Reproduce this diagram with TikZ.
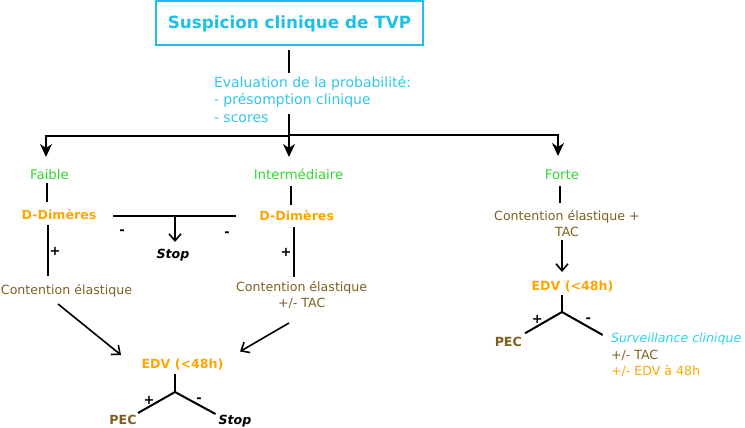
\documentclass[tikz,border=0pt]{standalone}
\usepackage{fontspec}
\setmainfont{DejaVu Sans}
\usetikzlibrary{arrows.meta}
\definecolor{tcyan}{HTML}{1CC0E8}
\definecolor{ecyan}{HTML}{30C6EC}
\definecolor{scyan}{HTML}{30D2F0}
\definecolor{tgreen}{HTML}{2ED82E}
\definecolor{torange}{HTML}{FFA500}
\definecolor{tbrown}{HTML}{7E6020}
\begin{document}
\begin{tikzpicture}[x=1pt,y=-1pt,
  every node/.style={inner sep=0pt,outer sep=0pt},
  conn/.style={line width=2pt,black},
  bigarrow/.style={conn,-{Stealth[length=13pt,width=12pt,inset=4pt]}},
  smallarrow/.style={line width=1.6pt,black,-{Straight Barb[length=7pt,width=12pt]}},
  titlebox/.style={draw=tcyan,line width=2pt,minimum width=267.6pt,minimum height=44pt,
    text height=13pt,text depth=2pt,font=\fontsize{16.8}{20}\selectfont\bfseries,text=tcyan},
  evaltext/.style={font=\fontsize{14}{17.5}\selectfont,text=ecyan},
  grade/.style={font=\fontsize{13.3}{16}\selectfont,text=tgreen},
  testlabel/.style={font=\fontsize{12.6}{15}\selectfont\bfseries,text=torange},
  treat/.style={font=\fontsize{12.6}{16}\selectfont,text=tbrown},
  stoplabel/.style={font=\fontsize{12.6}{15}\selectfont\bfseries\itshape,text=black},
  peclabel/.style={font=\fontsize{12.6}{15}\selectfont\bfseries,text=tbrown},
  sign/.style={font=\fontsize{13}{15}\selectfont\bfseries,text=black},
]
\useasboundingbox (0,0) rectangle (745,428);

% nodes
\node[titlebox] (title) at (289.5,23) {Suspicion clinique de TVP};
\node[evaltext,anchor=base west] (eval) at (214,87.3)
  {\begin{tabular}[t]{@{}l@{}}Evaluation de la probabilité:\\- présomption clinique\\- scores\end{tabular}};
\node[grade,anchor=base] (faible) at (49.5,179.3) {Faible};
\node[grade,anchor=base] (inter) at (298.5,179.3) {Intermédiaire};
\node[grade,anchor=base] (forte) at (562,179.3) {Forte};
\node[testlabel,anchor=base] (dd1) at (59,219) {D-Dimères};
\node[testlabel,anchor=base] (dd2) at (296.7,220.5) {D-Dimères};
\node[stoplabel,anchor=base] (stop1) at (173,258.3) {Stop};
\node[treat,anchor=base] (ce1) at (66.5,294.5) {Contention élastique};
\node[treat,anchor=base] (ce2) at (301.7,291.5)
  {\begin{tabular}[t]{@{}c@{}}Contention élastique\\+/- TAC\end{tabular}};
\node[treat,anchor=base] (ce3) at (567,220)
  {\begin{tabular}[t]{@{}c@{}}Contention élastique +\\TAC\end{tabular}};
\node[testlabel,anchor=base] (edv1) at (182.5,368.5) {EDV (<48h)};
\node[testlabel,anchor=base] (edv2) at (572.5,290) {EDV (<48h)};
\node[peclabel,anchor=base] (pec1) at (123,424) {PEC};
\node[stoplabel,anchor=base] (stop2) at (235,424.5) {Stop};
\node[peclabel,anchor=base] (pec2) at (508.3,346.5) {PEC};
\node[treat,anchor=base west] (surv) at (611,342.7)
  {\fontsize{12.6}{16.5}\selectfont\begin{tabular}[t]{@{}l@{}}{\color{scyan}\itshape Surveillance clinique}\\{\color{tbrown}+/- TAC}\\{\color{torange}+/- EDV à 48h}\end{tabular}};

% signs
\node[sign] (s1) at (55,251) {+};
\node[sign,anchor=base] (s2) at (122,234.8) {-};
\node[sign,anchor=base] (s3) at (227,236.3) {-};
\node[sign] (s4) at (286,252) {+};
\node[sign] (s5) at (149,400) {+};
\node[sign,anchor=base] (s6) at (199,402.8) {-};
\node[sign] (s7) at (537.3,319) {+};
\node[sign,anchor=base] (s8) at (588.3,322) {-};

% junction coordinates
\coordinate (t1) at (289,50);
\coordinate (t2) at (289,73);
\coordinate (e1) at (289,114);
\coordinate (e2) at (289,157);
\coordinate (jl) at (289,136);
\coordinate (jr) at (289,135);
\coordinate (al) at (46,157);
\coordinate (ar) at (558,156);
\coordinate (f1) at (47,183);
\coordinate (f2) at (47,202);
\coordinate (d1a) at (48,225);
\coordinate (d1b) at (48,276);
\coordinate (hL) at (113,216);
\coordinate (hR) at (236,216);
\coordinate (hM) at (175,216);
\coordinate (hS) at (175,242);
\coordinate (i1) at (291,186);
\coordinate (i2) at (291,205);
\coordinate (d2a) at (294,227);
\coordinate (d2b) at (294,277);
\coordinate (c1a) at (58,304);
\coordinate (c1b) at (121,355);
\coordinate (c2a) at (289,323);
\coordinate (c2b) at (240,351.5);
\coordinate (y1top) at (175,374);
\coordinate (y1c) at (175,392);
\coordinate (y1l) at (138,413);
\coordinate (y1r) at (215.5,414);
\coordinate (fo1) at (560,186);
\coordinate (fo2) at (560,203);
\coordinate (r1) at (562,240);
\coordinate (r2) at (562,272);
\coordinate (y2top) at (562,295);
\coordinate (y2c) at (562,312);
\coordinate (y2l) at (525,333.3);
\coordinate (y2r) at (602.7,335);

% connectors
\draw[conn] (t1) -- (t2);
\draw[bigarrow] (e1) -- (e2);
\draw[bigarrow] (jl) -| (al);
\draw[bigarrow] (jr) -| (ar);
\draw[conn] (f1) -- (f2);
\draw[conn] (d1a) -- (d1b);
\draw[conn] (hL) -- (hR);
\draw[smallarrow] (hM) -- (hS);
\draw[conn] (i1) -- (i2);
\draw[conn] (d2a) -- (d2b);
\draw[smallarrow] (c1a) -- (c1b);
\draw[smallarrow] (c2a) -- (c2b);
\draw[conn] (y1top) -- (y1c);
\draw[conn] (y1l) -- (y1c) -- (y1r);
\draw[conn] (fo1) -- (fo2);
\draw[smallarrow] (r1) -- (r2);
\draw[conn] (y2top) -- (y2c);
\draw[conn] (y2l) -- (y2c) -- (y2r);
\end{tikzpicture}
\end{document}
